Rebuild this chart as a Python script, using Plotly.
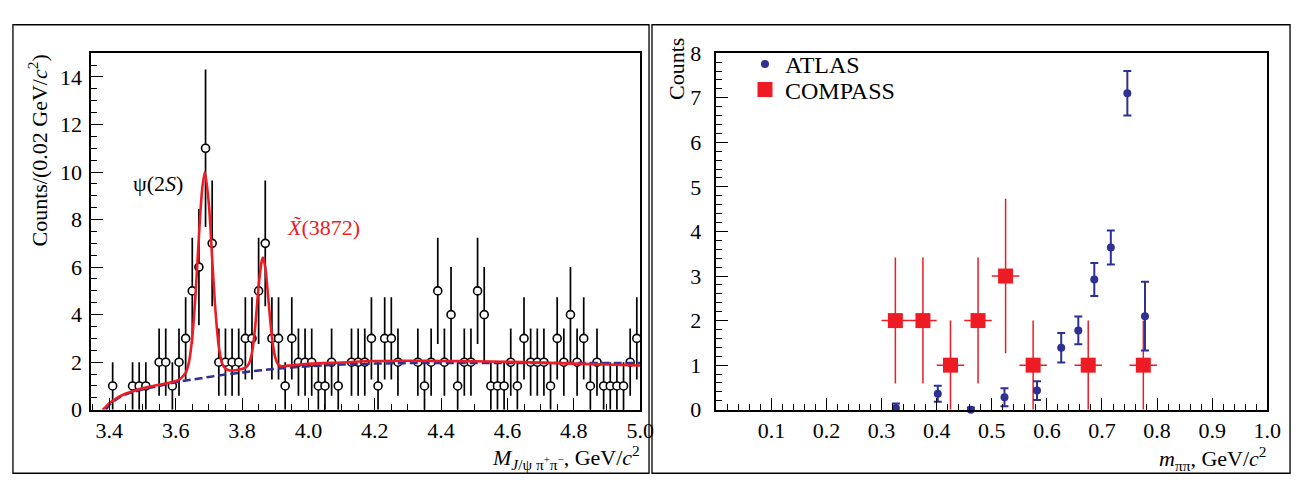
import numpy as np
import plotly.graph_objects as go

# ---------------- Left panel: J/psi pi+ pi- mass spectrum ----------------
mass = [3.41, 3.47, 3.49, 3.51, 3.55, 3.57, 3.59, 3.61, 3.63, 3.65, 3.67, 3.69, 3.71,
        3.73, 3.75, 3.77, 3.79, 3.81, 3.83, 3.85, 3.87, 3.89, 3.91, 3.93, 3.95, 3.97,
        3.99, 4.01, 4.03, 4.05, 4.07, 4.09, 4.13, 4.15, 4.17, 4.19, 4.21, 4.23, 4.25,
        4.27, 4.33, 4.35, 4.37, 4.39, 4.41, 4.43, 4.45, 4.47, 4.49, 4.51, 4.53, 4.55,
        4.57, 4.59, 4.61, 4.63, 4.65, 4.67, 4.69, 4.71, 4.73, 4.75, 4.77, 4.79, 4.81,
        4.83, 4.85, 4.87, 4.89, 4.91, 4.93, 4.95, 4.97, 4.99]
counts = [1, 1, 1, 1, 2, 2, 1, 2, 3, 5, 6, 11, 7,
          2, 2, 2, 2, 3, 3, 5, 7, 3, 3, 1, 3, 2,
          2, 2, 1, 1, 2, 1, 2, 2, 2, 3, 1, 3, 3,
          2, 2, 1, 2, 5, 2, 4, 1, 2, 2, 5, 4, 1,
          1, 1, 2, 1, 3, 2, 2, 2, 1, 3, 2, 4, 2,
          3, 1, 2, 1, 1, 1, 1, 2, 3]

fit_mass = [3.38, 3.39, 3.40, 3.42, 3.45, 3.48, 3.51, 3.55, 3.59, 3.61, 3.62, 3.63,
            3.64, 3.65, 3.66, 3.67, 3.68, 3.688, 3.70, 3.71, 3.72, 3.73, 3.74, 3.75,
            3.76, 3.77, 3.78, 3.79, 3.80, 3.81, 3.82, 3.83, 3.84, 3.85, 3.86, 3.863,
            3.87, 3.88, 3.89, 3.90, 3.91, 3.92, 3.93, 3.95, 4.00, 4.10, 4.20, 4.30,
            4.40, 4.50, 4.60, 4.70, 4.80, 4.90, 5.00]
fit_total = [0.0, 0.13, 0.27, 0.47, 0.68, 0.82, 0.93, 1.05, 1.17, 1.26, 1.38, 1.55,
             2.0, 3.05, 4.9, 7.3, 9.3, 10.0, 8.65, 6.35, 4.15, 2.65, 1.95, 1.72,
             1.66, 1.65, 1.66, 1.68, 1.71, 1.77, 1.92, 2.4, 3.55, 5.2, 6.3, 6.4,
             6.0, 4.55, 3.07, 2.2, 1.88, 1.83, 1.84, 1.87, 1.93, 1.99, 2.05, 2.06,
             2.05, 2.04, 2.02, 1.98, 1.94, 1.9, 1.86]

bkg_mass = [3.39, 3.40, 3.42, 3.45, 3.50, 3.55, 3.60, 3.65, 3.70, 3.75, 3.80, 3.85,
            3.90, 3.95, 4.00, 4.10, 4.20, 4.30, 4.40, 4.50, 4.60, 4.70, 4.80, 4.90, 5.00]
bkg_vals = [0.0, 0.2, 0.42, 0.65, 0.85, 1.0, 1.15, 1.27, 1.38, 1.48, 1.57, 1.65,
            1.72, 1.78, 1.83, 1.9, 1.94, 1.96, 1.97, 1.97, 1.97, 1.97, 1.97, 1.97, 1.97]

# ---------------- Right panel: m_pipi distributions ----------------
atlas_x = [0.326, 0.402, 0.462, 0.523, 0.582, 0.626, 0.657, 0.686, 0.716, 0.746, 0.778]
atlas_y = [0.04, 0.36, 0.0, 0.28, 0.43, 1.39, 1.78, 2.92, 3.64, 7.1, 2.1]
atlas_err = [0.1, 0.18, 0.05, 0.2, 0.21, 0.33, 0.31, 0.37, 0.38, 0.5, 0.77]

compass_x = [0.325, 0.375, 0.425, 0.475, 0.525, 0.575, 0.675, 0.775]
compass_y = [2, 2, 1, 2, 3, 1, 1, 1]
compass_xerr = [0.025] * len(compass_x)

# ---------------- styling constants ----------------
W, H = 1301, 483
FONT = "Liberation Serif"
NAVY = "#2e3192"
RED = "#ed1c24"


def fx(p):
    return p / W


def fy(p):
    return 1 - p / H


fig = go.Figure()

# left panel
fig.add_trace(go.Scatter(
    x=mass, y=counts, mode="markers", xaxis="x", yaxis="y", showlegend=False,
    error_y=dict(type="data", array=np.sqrt(counts), color="black", thickness=1.7, width=0),
    marker=dict(symbol="circle", size=8, color="white", line=dict(color="black", width=1.6)),
))
fig.add_trace(go.Scatter(
    x=bkg_mass, y=bkg_vals, mode="lines", xaxis="x", yaxis="y", showlegend=False,
    line=dict(color=NAVY, width=2.5, dash="8px,4px", shape="spline"),
))
fig.add_trace(go.Scatter(
    x=fit_mass, y=fit_total, mode="lines", xaxis="x", yaxis="y", showlegend=False,
    line=dict(color=RED, width=2.6, shape="spline", smoothing=0.8),
))

# right panel
fig.add_trace(go.Scatter(
    x=compass_x, y=compass_y, mode="markers", xaxis="x2", yaxis="y2", name="COMPASS",
    legend="legend2", cliponaxis=False,
    error_y=dict(type="data", array=np.sqrt(compass_y), color=RED, thickness=1.5, width=0),
    error_x=dict(type="data", array=compass_xerr, color=RED, thickness=1.5, width=0),
    marker=dict(symbol="square", size=15, color=RED),
))
fig.add_trace(go.Scatter(
    x=atlas_x, y=atlas_y, mode="markers", xaxis="x2", yaxis="y2", name="ATLAS",
    legend="legend", cliponaxis=False,
    error_y=dict(type="data", array=atlas_err, color=NAVY, thickness=2, width=4),
    marker=dict(symbol="circle", size=8, color=NAVY),
))

axis_common = dict(
    showline=True, linecolor="black", linewidth=1.5, mirror=True,
    ticks="inside", ticklen=12, tickwidth=1.3, tickcolor="black",
    showgrid=False, zeroline=False,
    tickfont=dict(family=FONT, size=22, color="black"),
)
minor_common = dict(ticks="inside", ticklen=6, tickwidth=1.2, tickcolor="black")

y_dom = [fy(411), fy(35)]

fig.update_layout(
    width=W, height=H,
    margin=dict(l=0, r=0, t=0, b=0),
    paper_bgcolor="white", plot_bgcolor="white",
    font=dict(family=FONT, size=22, color="black"),
    xaxis=dict(domain=[fx(84), fx(639)], range=[3.345, 5.0], anchor="y",
               tickmode="linear", tick0=3.4, dtick=0.2, tickformat=".1f",
               minor=dict(tick0=3.4, dtick=0.05, **minor_common),
               **axis_common),
    yaxis=dict(domain=y_dom, range=[0, 15], anchor="x",
               tickmode="linear", tick0=0, dtick=2, ticklabelstandoff=3,
               minor=dict(tick0=0, dtick=0.5, **minor_common),
               **axis_common),
    xaxis2=dict(domain=[fx(716), fx(1273)], range=[0, 1.0], anchor="y2",
                tickmode="array",
                tickvals=[0.1, 0.2, 0.3, 0.4, 0.5, 0.6, 0.7, 0.8, 0.9, 1.0],
                ticktext=["0.1", "0.2", "0.3", "0.4", "0.5", "0.6", "0.7", "0.8", "0.9", "1.0"],
                minor=dict(tick0=0, dtick=0.02, **minor_common),
                **axis_common),
    yaxis2=dict(domain=y_dom, range=[0, 8], anchor="x2",
                tickmode="linear", tick0=0, dtick=1, ticklabelstandoff=9,
                minor=dict(tick0=0, dtick=0.2, **minor_common),
                **axis_common),
    legend=dict(x=fx(745), y=fy(23), xanchor="left", yanchor="top",
                bgcolor="rgba(0,0,0,0)", font=dict(family=FONT, size=24, color="black"),
                itemwidth=30),
    legend2=dict(x=fx(745), y=fy(50), xanchor="left", yanchor="top",
                 bgcolor="rgba(0,0,0,0)", font=dict(family=FONT, size=24, color="black"),
                 itemwidth=30),
    shapes=[
        dict(type="rect", xref="paper", yref="paper", x0=fx(5), x1=fx(648), y0=fy(478), y1=fy(5),
             line=dict(color="black", width=1.3)),
        dict(type="rect", xref="paper", yref="paper", x0=fx(651), x1=fx(1296), y0=fy(478), y1=fy(5),
             line=dict(color="black", width=1.3)),
    ],
    annotations=[
        dict(text="Counts/(0.02 GeV/<i>c</i><sup>2</sup>)", x=fx(30), y=fy(138), xref="paper", yref="paper",
             textangle=-90, xanchor="center", yanchor="middle", showarrow=False,
             font=dict(family=FONT, size=22, color="black")),
        dict(text="<i>M</i><sub><i>J</i>/ψ π<sup>+</sup>π<sup>−</sup></sub>, GeV/<i>c</i><sup>2</sup>",
             x=fx(641), y=fy(461), xref="paper", yref="paper", xanchor="right", yanchor="middle",
             showarrow=False, font=dict(family=FONT, size=22, color="black")),
        dict(text="Counts", x=fx(676), y=fy(52), xref="paper", yref="paper",
             textangle=-90, xanchor="center", yanchor="middle", showarrow=False,
             font=dict(family=FONT, size=22, color="black")),
        dict(text="<i>m</i><sub>ππ</sub>, GeV/<i>c</i><sup>2</sup>",
             x=fx(1275), y=fy(462), xref="paper", yref="paper", xanchor="right", yanchor="middle",
             showarrow=False, font=dict(family=FONT, size=22, color="black")),
        dict(text="ψ(2<i>S</i>)", x=fx(152), y=fy(172), xref="paper", yref="paper",
             xanchor="center", yanchor="middle", showarrow=False,
             font=dict(family=FONT, size=22, color="black")),
        dict(text="<i>X̃</i>(3872)", x=fx(319), y=fy(219), xref="paper", yref="paper",
             xanchor="center", yanchor="middle", showarrow=False,
             font=dict(family=FONT, size=22, color=RED)),
    ],
)

fig.write_html("out.html")
